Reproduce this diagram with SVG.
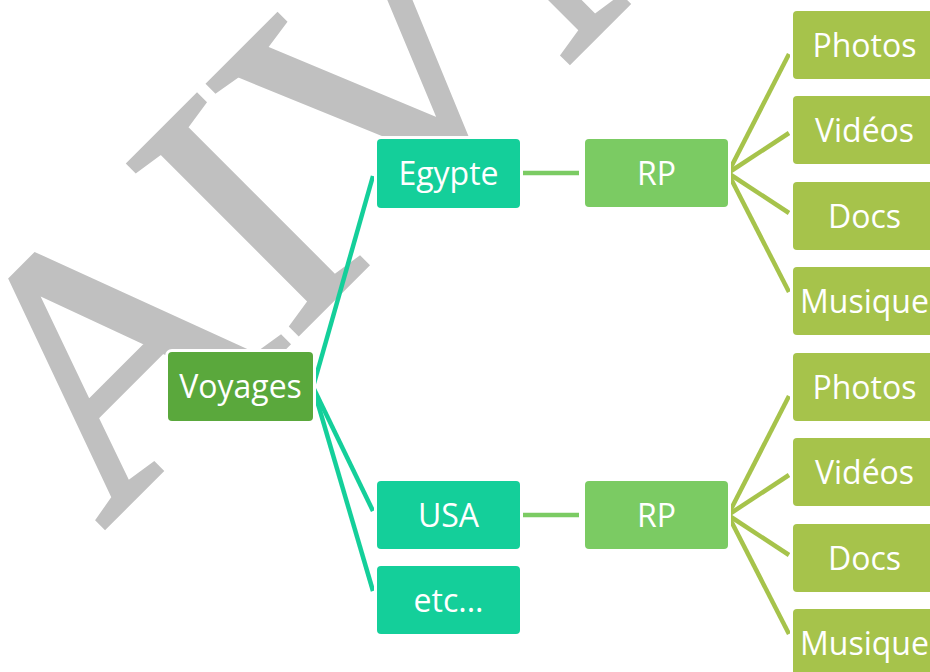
<svg xmlns="http://www.w3.org/2000/svg" width="930" height="672" viewBox="0 0 930 672">
<style>
.box{stroke:#ffffff;stroke-width:6;paint-order:stroke}
.l0{fill:#5AA83C}
.l1{fill:#14CF9A}
.l2{fill:#7BCB63}
.l3{fill:#A6C34B}
.t{font-family:"Open Sans","Noto Sans","Liberation Sans",sans-serif;font-size:32px;fill:#ffffff;text-anchor:middle}
.c1{stroke:#14CF9A;stroke-width:4.5;fill:none}
.c2{stroke:#7BCB63;stroke-width:4.5;fill:none}
.c3{stroke:#A6C34B;stroke-width:4.5;fill:none}
</style>
<rect width="930" height="672" fill="#ffffff"/>
<g id="watermark">
<text x="-306" y="-3" transform="translate(321,315) rotate(-45)" font-family="'Liberation Serif','Times New Roman',serif" font-size="366" fill="#C0C0C0" stroke="#C0C0C0" stroke-width="5" stroke-linejoin="miter" stroke-miterlimit="6">AIVN</text>
</g>
<g id="connectors">
<line class="c1" x1="313" y1="387" x2="373" y2="176"/>
<line class="c1" x1="313" y1="387" x2="373" y2="511"/>
<line class="c1" x1="313" y1="387" x2="373" y2="591"/>
<line class="c2" x1="521" y1="173" x2="579" y2="173"/>
<line class="c2" x1="521" y1="515" x2="579" y2="515"/>
<line class="c3" x1="728" y1="173" x2="789" y2="54"/>
<line class="c3" x1="728" y1="173" x2="789" y2="133"/>
<line class="c3" x1="728" y1="173" x2="789" y2="213"/>
<line class="c3" x1="728" y1="173" x2="789" y2="292"/>
<line class="c3" x1="728" y1="515" x2="789" y2="396"/>
<line class="c3" x1="728" y1="515" x2="789" y2="475"/>
<line class="c3" x1="728" y1="515" x2="789" y2="555"/>
<line class="c3" x1="728" y1="515" x2="789" y2="634"/>
</g>
<g id="voyages"><rect class="box l0" x="168" y="352" width="145" height="69" rx="4"/><text class="t" x="240.5" y="398">Voyages</text></g>
<g id="egypte"><rect class="box l1" x="377" y="139" width="143" height="69" rx="4"/><text class="t" x="448.5" y="184.5">Egypte</text></g>
<g id="usa"><rect class="box l1" x="377" y="481" width="143" height="68" rx="4"/><text class="t" x="448.5" y="526.5">USA</text></g>
<g id="etc"><rect class="box l1" x="377" y="566" width="143" height="68" rx="4"/><text class="t" x="448.5" y="611.5">etc...</text></g>
<g id="rp1"><rect class="box l2" x="585" y="139" width="143" height="68" rx="4"/><text class="t" x="656.5" y="184.5">RP</text></g>
<g id="rp2"><rect class="box l2" x="585" y="481" width="143" height="68" rx="4"/><text class="t" x="656.5" y="526.5">RP</text></g>
<g id="photos1"><rect class="box l3" x="793" y="11" width="143" height="68" rx="4"/><text class="t" x="864.5" y="56.5">Photos</text></g>
<g id="videos1"><rect class="box l3" x="793" y="96" width="143" height="68" rx="4"/><text class="t" x="864.5" y="141.5">Vidéos</text></g>
<g id="docs1"><rect class="box l3" x="793" y="182" width="143" height="68" rx="4"/><text class="t" x="864.5" y="227.5">Docs</text></g>
<g id="musique1"><rect class="box l3" x="793" y="267" width="143" height="68" rx="4"/><text class="t" x="864.5" y="312.5">Musique</text></g>
<g id="photos2"><rect class="box l3" x="793" y="353" width="143" height="68" rx="4"/><text class="t" x="864.5" y="398.5">Photos</text></g>
<g id="videos2"><rect class="box l3" x="793" y="438" width="143" height="68" rx="4"/><text class="t" x="864.5" y="483.5">Vidéos</text></g>
<g id="docs2"><rect class="box l3" x="793" y="524" width="143" height="68" rx="4"/><text class="t" x="864.5" y="569.5">Docs</text></g>
<g id="musique2"><rect class="box l3" x="793" y="609" width="143" height="68" rx="4"/><text class="t" x="864.5" y="654.5">Musique</text></g>
</svg>
